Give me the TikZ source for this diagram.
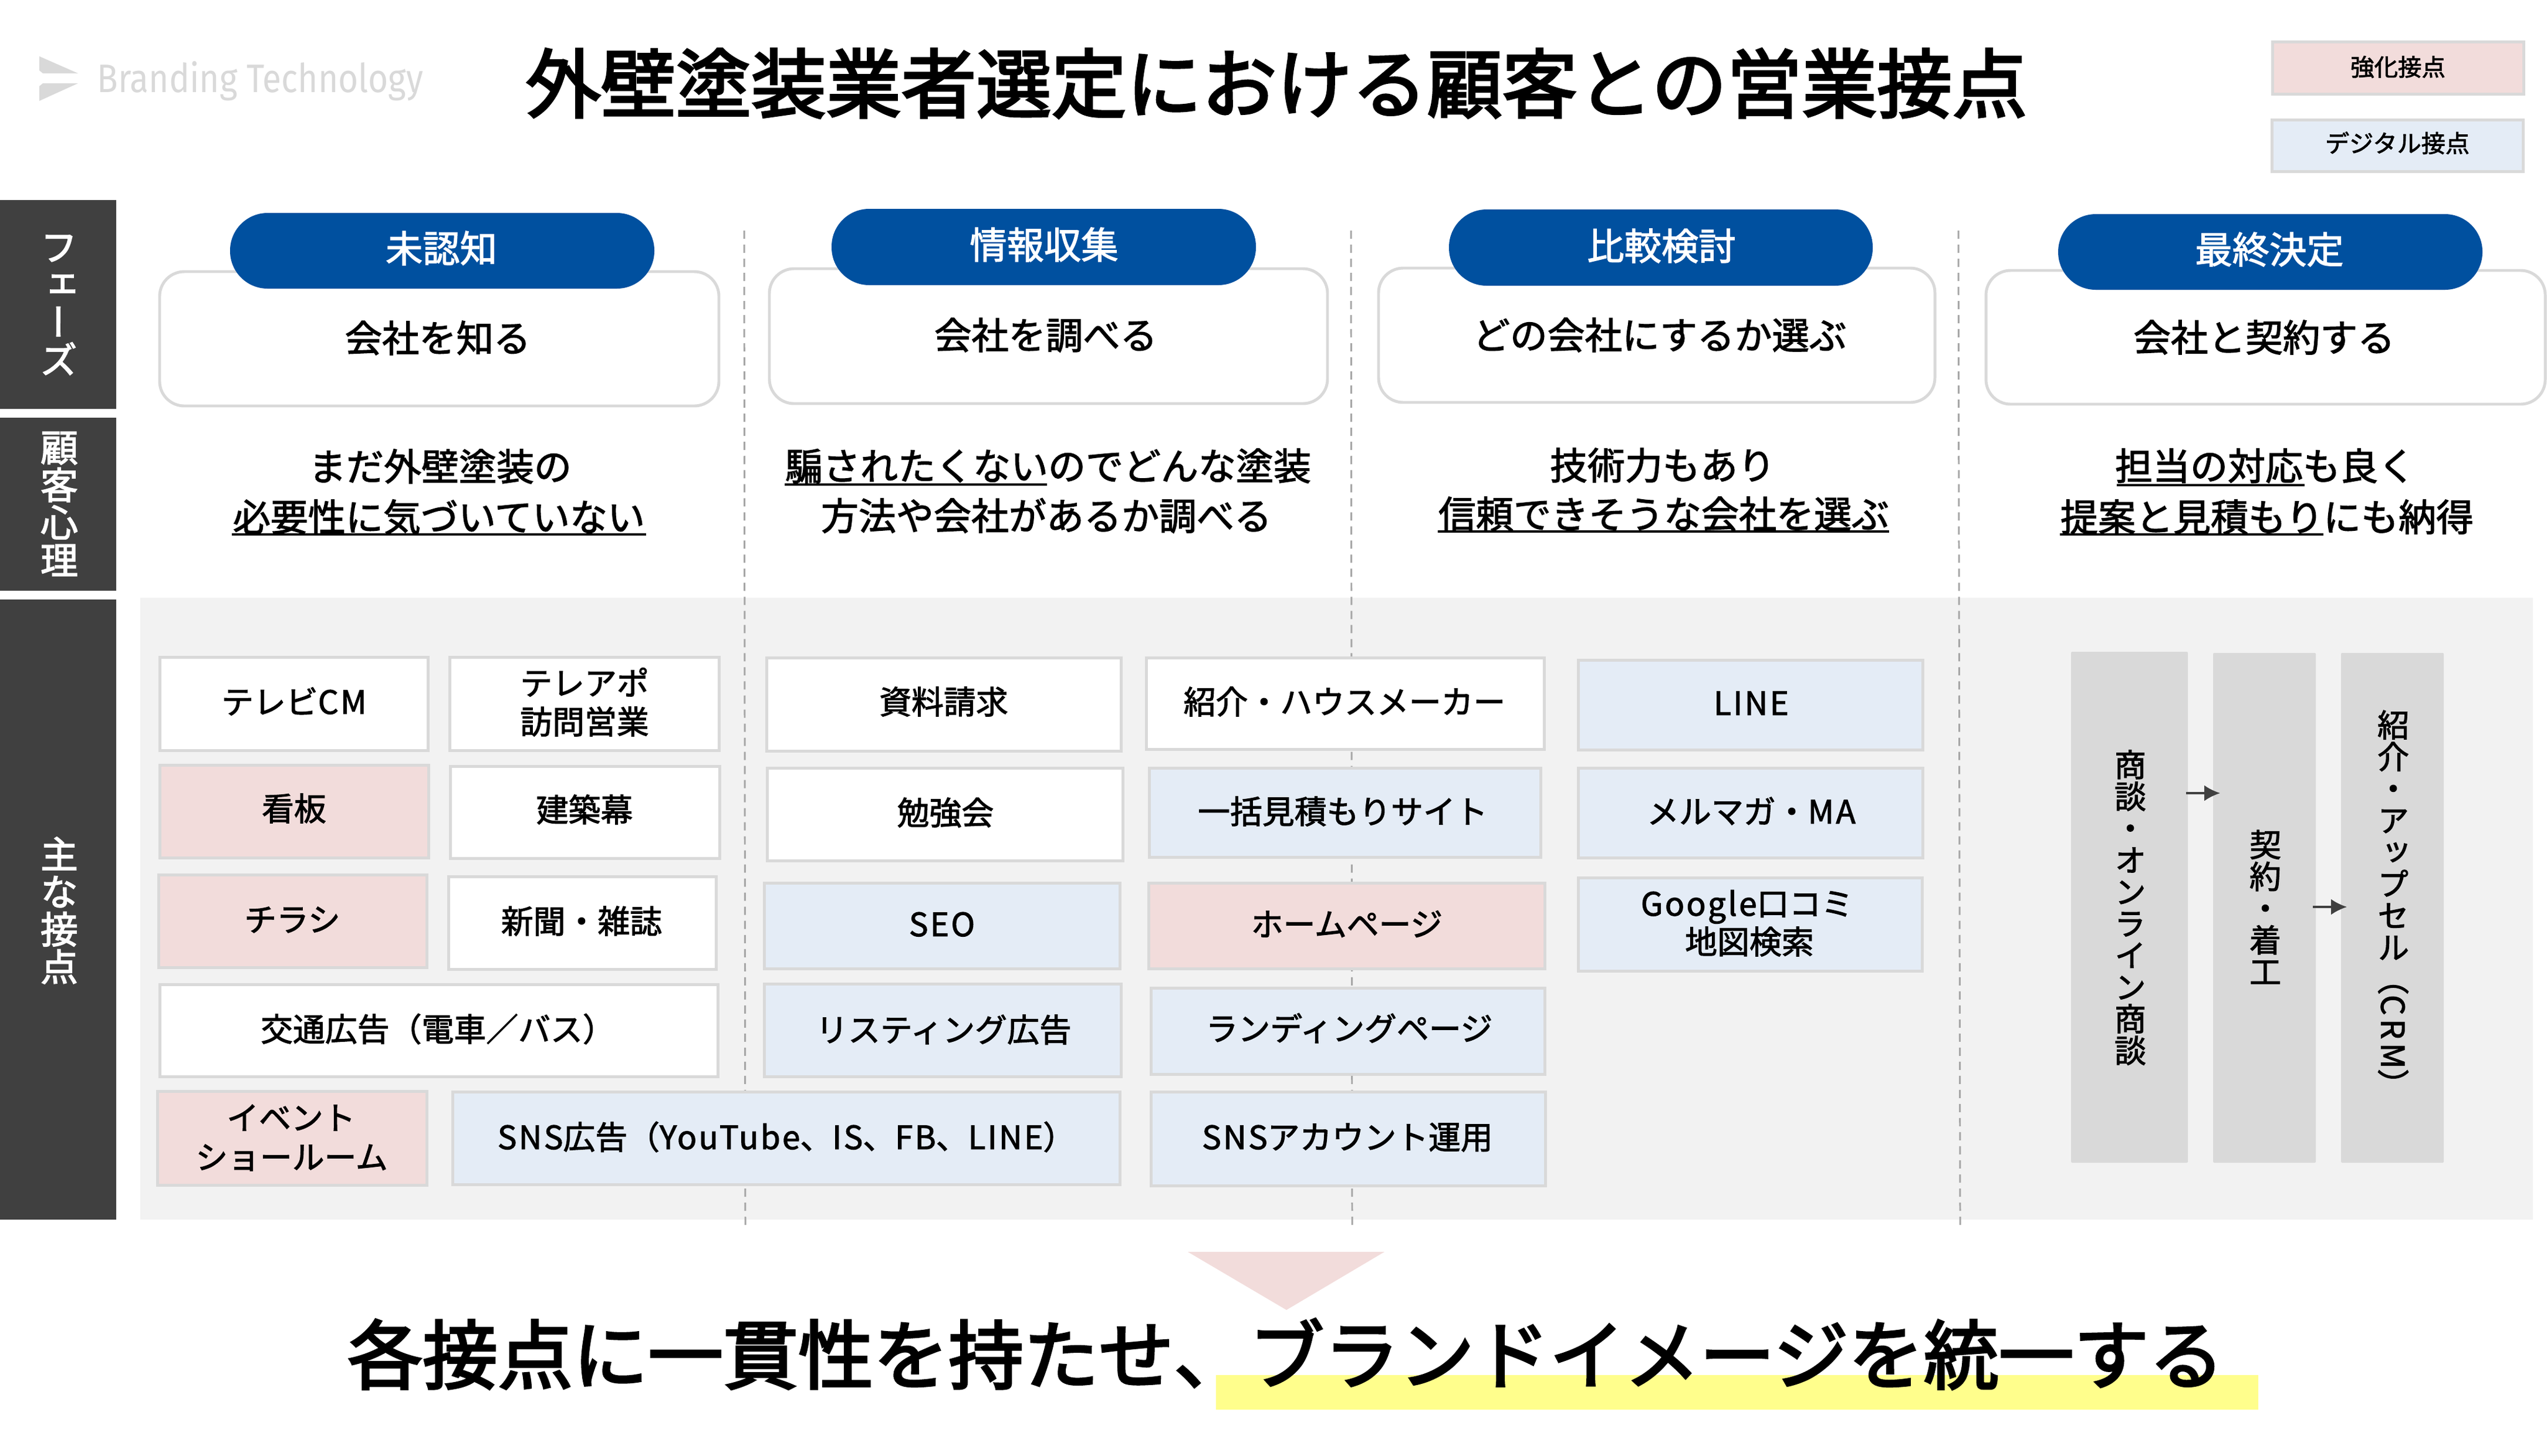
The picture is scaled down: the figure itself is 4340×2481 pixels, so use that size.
\documentclass[tikz,border=0pt]{standalone}
\usepackage{graphicx}
\usepackage{fontspec}
\newfontfamily\jpm[FakeBold=2.0]{Noto Sans CJK JP}
\newfontfamily\jpb[FakeBold=3.0]{Noto Sans CJK JP}
\newfontfamily\jpv[RawFeature={+vert},FakeBold=2.0]{Noto Sans CJK JP}
\newfontfamily\jpvb[RawFeature={+vert},FakeBold=2.5]{Noto Sans CJK JP}
\newfontfamily\logofont{Fira Sans}
\newcommand{\ltn}[1]{{\addfontfeature{LetterSpace=6}#1}}
\definecolor{edge}{HTML}{D9D9D9}
\definecolor{pinkf}{HTML}{F2DCDB}
\definecolor{bluef}{HTML}{E4ECF6}
\definecolor{navy}{HTML}{00509F}
\definecolor{side}{HTML}{404040}
\definecolor{panel}{HTML}{F2F2F2}
\definecolor{dash}{HTML}{A6A6A6}
\definecolor{hilite}{HTML}{FFFE8C}
\usetikzlibrary{arrows.meta}
\tikzset{
  fs/.style={font={\fontsize{#1pt}{#1pt}\selectfont\jpm},inner sep=0pt,text=black,text height={#1pt*.88},text depth={#1pt*.12}},
  big/.style={font={\fontsize{#1pt}{#1pt}\selectfont\jpb},inner sep=0pt,text=black,text height={#1pt*.88},text depth={#1pt*.12}},
  vs/.style={font={\fontsize{#1pt}{#1pt}\selectfont\jpv},inner sep=0pt,align=center},
  vsw/.style={font={\fontsize{#1pt}{#1pt}\selectfont\jpvb},inner sep=0pt,align=center,text=white},
  bxs/.style={draw=edge,line width=1.4pt,inner sep=0pt,outer sep=0pt},
  sidebar/.style={fill=side,inner sep=0pt,outer sep=0pt},
  pill/.style={fill=navy,inner sep=0pt,outer sep=0pt,rounded corners=0.64cm},
  phasebox/.style={draw=edge,fill=white,line width=1.4pt,inner sep=0pt,outer sep=0pt,rounded corners=0.42cm},
  grayb/.style={fill=edge,inner sep=0pt,outer sep=0pt,rounded corners=0.02cm},
  divider/.style={draw=dash,line width=0.85pt,dash pattern=on 0.14cm off 0.10cm},
  ul/.style={draw=black,line width=0.9pt},
  flow/.style={draw=side,line width=0.9pt,-{Latex[length=0.27cm,width=0.27cm]}},
}
% name, x1, y1, x2, y2, style (outer edges of the stroke)
\newcommand{\bx}[6]{\node[bxs,#6,minimum width={(#4-#2-5)*0.01cm},minimum height={(#5-#3-5)*0.01cm}] (#1) at ({(#2+#4)/2},{(#3+#5)/2}) {};}
\newcommand{\pb}[6]{\node[#6,minimum width={(#4-#2)*0.01cm},minimum height={(#5-#3)*0.01cm}] (#1) at ({(#2+#4)/2},{(#3+#5)/2}) {};}
\begin{document}
\begin{tikzpicture}[x=0.01cm,y=-0.01cm]
\useasboundingbox (0,0) rectangle (4340,2481);
% panel
\pb{pan}{239}{1019}{4316}{2079}{fill=panel,inner sep=0pt,outer sep=0pt}
% dividers
\coordinate (d1a) at (1268,393); \coordinate (d1b) at (1270,2088);
\coordinate (d2a) at (2302,393); \coordinate (d2b) at (2304,2088);
\coordinate (d3a) at (3337,393); \coordinate (d3b) at (3340,2088);
\draw[divider] (d1a)--(d1b); \draw[divider] (d2a)--(d2b); \draw[divider] (d3a)--(d3b);
% sidebars
\pb{s1}{0}{341}{198}{697}{sidebar}
\pb{s2}{0}{712}{198}{1007}{sidebar}
\pb{s3}{0}{1022}{198}{2079}{sidebar}
\node[vsw=18.2] (s1t) at (100,520) {フ\\ェ\\ー\\ズ};
\node[vsw=18.2] (s2t) at (101,859) {顧\\客\\心\\理};
\node[vsw=18.2] (s3t) at (101,1552) {主\\な\\接\\点};
% logo
\fill[edge] (67,96) -- (133,125) -- (73,125) -- (67,120) -- cycle;
\fill[edge] (67,172) -- (133,142) -- (73,142) -- (67,147) -- cycle;
\node[font={\fontsize{19.3pt}{20pt}\selectfont\logofont},text=edge,inner sep=0pt,anchor=base west,xscale=0.865] (logo) at (165,157) {Branding Technology};
% title
\node[big=36.4] (title) at (2175,142) {外壁塗装業者選定における顧客との営業接点};
% legend
\bx{lg1}{3870}{69}{4303}{163}{fill=pinkf}
\bx{lg2}{3869}{202}{4302}{295}{fill=bluef}
\node[fs=11.5] (lg1t) at (4086,114) {強化接点};
\node[fs=11.7] (lg2t) at (4085,244) {デジタル接点};
% phase boxes
\pb{pb1}{272}{463}{1225}{692}{phasebox}
\pb{pb2}{1311}{458}{2262}{688}{phasebox}
\pb{pb3}{2349}{457}{3297}{686}{phasebox}
\pb{pb4}{3384}{461}{4337}{689}{phasebox}
\pb{pl1}{392}{363}{1115}{492}{pill}
\pb{pl2}{1417}{356}{2140}{486}{pill}
\pb{pl3}{2469}{357}{3191}{487}{pill}
\pb{pl4}{3507}{365}{4230}{494}{pill}
\node[fs=18,text=white] (pl1t) at (752,423) {未認知};
\node[fs=18,text=white] (pl2t) at (1779,417) {情報収集};
\node[fs=18,text=white] (pl3t) at (2831,419) {比較検討};
\node[fs=18,text=white] (pl4t) at (3867,425) {最終決定};
\node[fs=18] (pb1t) at (746,576) {会社を知る};
\node[fs=18] (pb2t) at (1782,571) {会社を調べる};
\node[fs=18.1] (pb3t) at (2828,571) {どの会社にするか選ぶ};
\node[fs=18.1] (pb4t) at (3858,575) {会社と契約する};
% psychology
\node[fs=18.2] (m1a) at (750,795) {まだ外壁塗装の};
\node[fs=18.2] (m1b) at (748,881) {必要性に気づいていない};
\node[fs=18.2] (m2a) at (1786,794) {騙されたくないのでどんな塗装};
\node[fs=18.2] (m2b) at (1783,879) {方法や会社があるか調べる};
\node[fs=18.2] (m3a) at (2833,793) {技術力もあり};
\node[fs=18.2] (m3b) at (2835,876) {信頼できそうな会社を選ぶ};
\node[fs=18.2] (m4a) at (3860,794) {担当の対応も良く};
\node[fs=18.2] (m4b) at (3863,881) {提案と見積もりにも納得};
\draw[ul] (395,911) -- (1101,911);
\draw[ul] (1337,826) -- (1784,826);
\draw[ul] (2450,906) -- (3219,906);
\draw[ul] (3607,827) -- (3927,827);
\draw[ul] (3510,911) -- (3959,911);
% touchpoints column 1
\bx{a1}{270}{1118}{732}{1282}{fill=white}
\bx{a2}{764}{1118}{1228}{1282}{fill=white}
\bx{a3}{270}{1302}{733}{1465}{fill=pinkf}
\bx{a4}{765}{1304}{1229}{1466}{fill=white}
\bx{a5}{268}{1489}{730}{1652}{fill=pinkf}
\bx{a6}{762}{1492}{1223}{1655}{fill=white}
\bx{a7}{270}{1676}{1226}{1838}{fill=white}
\bx{a8}{266}{1858}{730}{2023}{fill=pinkf}
\bx{a9}{769}{1859}{1911}{2022}{fill=bluef}
\node[fs=15.6] (a1t) at (501,1196) {テレビ\ltn{CM}};
\node[fs=15.6] (a2ta) at (996,1164) {テレアポ};
\node[fs=15.6] (a2tb) at (996,1230) {訪問営業};
\node[fs=15.6] (a3t) at (501,1378) {看板};
\node[fs=15.6] (a4t) at (996,1380) {建築幕};
\node[fs=15.6] (a5t) at (498,1567) {チラシ};
\node[fs=15.6] (a6t) at (991,1570) {新聞・雑誌};
\node[fs=15.6] (a7t) at (746,1754) {交通広告（電車／バス）};
\node[fs=15.6] (a8ta) at (496,1905) {イベント};
\node[fs=15.6] (a8tb) at (497,1972) {ショールーム};
\node[fs=15.6] (a9t) at (1340,1938) {\ltn{SNS}広告（\ltn{YouTube}、\ltn{IS}、\ltn{FB}、\ltn{LINE}）};
% column 2
\bx{b1}{1304}{1119}{1913}{1283}{fill=white}
\bx{b2}{1305}{1307}{1916}{1470}{fill=white}
\bx{b3}{1300}{1503}{1911}{1654}{fill=bluef}
\bx{b4}{1300}{1675}{1913}{1838}{fill=bluef}
\node[fs=15.6] (b1t) at (1608,1196) {資料請求};
\node[fs=15.6] (b2t) at (1611,1385) {勉強会};
\node[fs=15.6] (b3t) at (1605,1575) {\ltn{SEO}};
\node[fs=15.6] (b4t) at (1608,1755) {リスティング広告};
% column 3
\bx{c1}{1951}{1119}{2634}{1280}{fill=white}
\bx{c2}{1956}{1307}{2628}{1464}{fill=bluef}
\bx{c3}{1955}{1503}{2635}{1654}{fill=pinkf}
\bx{c4}{1959}{1682}{2635}{1834}{fill=bluef}
\bx{c5}{1959}{1859}{2636}{2024}{fill=bluef}
\node[fs=15.6] (c1t) at (2291,1196) {紹介・ハウスメーカー};
\node[fs=15.6] (c2t) at (2288,1383) {一括見積もりサイト};
\node[fs=15.6] (c3t) at (2295,1575) {ホームページ};
\node[fs=15.6] (c4t) at (2299,1753) {ランディングページ};
\node[fs=15.6] (c5t) at (2296,1938) {\ltn{SNS}アカウント運用};
% column 4
\bx{e1}{2687}{1123}{3279}{1281}{fill=bluef}
\bx{e2}{2687}{1307}{3279}{1465}{fill=bluef}
\bx{e3}{2687}{1494}{3278}{1658}{fill=bluef}
\node[fs=15.6] (e1t) at (2984,1198) {\ltn{LINE}};
\node[fs=15.6] (e2t) at (2984,1383) {メルマガ・\ltn{MA}};
\node[fs=15.6] (e3ta) at (2977,1540) {\ltn{Google}口コミ};
\node[fs=15.6] (e3tb) at (2981,1605) {地図検索};
% final decision column
\pb{g1}{3529}{1111}{3728}{1982}{grayb}
\pb{g2}{3771}{1113}{3946}{1982}{grayb}
\pb{g3}{3989}{1113}{4164}{1982}{grayb}
\node[vs=15.4] (g1t) at (3630,1547) {商\\談\\・\\オ\\ン\\ラ\\イ\\ン\\商\\談};
\node[vs=15.4] (g2t) at (3860,1546) {契\\約\\・\\着\\工};
\node[vs=15.4,anchor=north] (g3t) at (4078,1210) {紹\\介\\・\\ア\\ッ\\プ\\セ\\ル\\\raisebox{.88em}{\rotatebox{-90}{\jpm（{\addfontfeature{LetterSpace=12}CRM}）}}};
\coordinate (ar1s) at (3725,1352); \coordinate (ar1e) at (3783,1352);
\coordinate (ar2s) at (3941,1546); \coordinate (ar2e) at (3999,1546);
\draw[flow] (ar1s) -- (ar1e);
\draw[flow] (ar2s) -- (ar2e);
% conclusion
\fill[pinkf] (2024,2134) -- (2359,2134) -- (2192,2233) -- cycle;
\fill[hilite] (2072,2344) rectangle (3848,2403);
\node[big=36.4] (concl) at (2191,2309) {各接点に一貫性を持たせ、ブランドイメージを統一する};
\end{tikzpicture}
\end{document}
